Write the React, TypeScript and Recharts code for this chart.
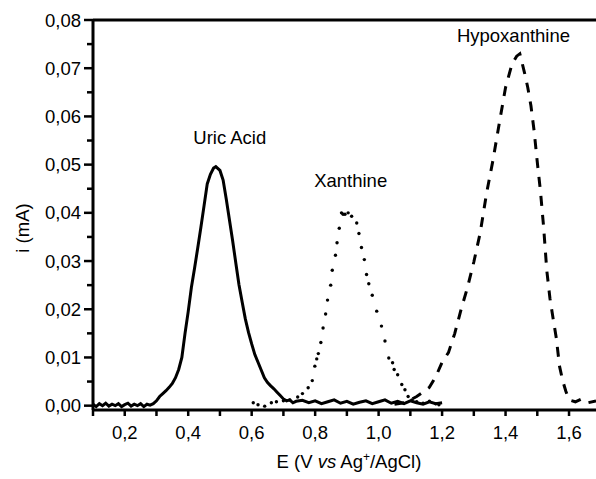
import { LineChart, Line, XAxis, YAxis, ReferenceLine, ReferenceDot } from "recharts";

// potential (V) and current (mA)
const uricE = [
  0.1, 0.11, 0.12, 0.13, 0.14, 0.15, 0.16, 0.17, 0.18, 0.19, 0.2, 0.21, 0.22, 0.23, 0.24, 0.25, 0.26, 0.27, 0.28, 0.29,
  0.3, 0.31, 0.32, 0.33, 0.34, 0.35, 0.36, 0.37, 0.38, 0.39, 0.4, 0.41, 0.42, 0.43, 0.44, 0.45, 0.46, 0.47, 0.48, 0.487,
  0.5, 0.51, 0.52, 0.53, 0.54, 0.55, 0.56, 0.57, 0.58, 0.59, 0.6, 0.61, 0.62, 0.63, 0.64, 0.65, 0.66, 0.67, 0.68, 0.69,
  0.7, 0.71, 0.72, 0.73, 0.74, 0.76, 0.78, 0.8, 0.82, 0.84, 0.86, 0.88, 0.9, 0.92, 0.94, 0.96, 0.98, 1.0, 1.02, 1.04,
  1.06, 1.08, 1.1, 1.12, 1.14, 1.16, 1.18, 1.2,
];
const uricI = [
  0.0003, -0.0002, 0.0004, 0.0, 0.0005, -0.0001, 0.0003, 0.0, 0.0004, -0.0002, 0.0002, 0.0005, -0.0001, 0.0003, 0.0, 0.0004, -0.0002, 0.0003, 0.0001, 0.0004,
  0.001, 0.0019, 0.0025, 0.0031, 0.0038, 0.0046, 0.0058, 0.0075, 0.01, 0.015, 0.0195, 0.0245, 0.0285, 0.0327, 0.037, 0.0415, 0.046, 0.048, 0.0493, 0.0496,
  0.0488, 0.0468, 0.0428, 0.0385, 0.0342, 0.0296, 0.0251, 0.0215, 0.018, 0.0152, 0.0128, 0.0106, 0.009, 0.0074, 0.0058, 0.0048, 0.0041, 0.0035, 0.0028, 0.0021,
  0.0014, 0.001, 0.0012, 0.0006, 0.0009, 0.0011, 0.0006, 0.001, 0.0004, 0.0008, 0.0012, 0.0005, 0.0009, 0.0003, 0.0007, 0.001, 0.0004, 0.0008, 0.0012, 0.0005,
  0.0009, 0.0004, 0.001, 0.0006, 0.0003, 0.0008, 0.0004, 0.0006,
];

// xanthine is drawn as separate sample points
const xanthineE = [
  0.605, 0.62, 0.641, 0.662, 0.678, 0.7, 0.72, 0.745, 0.76, 0.778, 0.791, 0.799, 0.805, 0.81, 0.818, 0.825, 0.833, 0.839, 0.849, 0.854,
  0.864, 0.869, 0.876, 0.883, 0.888, 0.894, 0.904, 0.915, 0.931, 0.938, 0.946, 0.955, 0.962, 0.969, 0.98, 0.994, 1.009, 1.02, 1.032, 1.044,
  1.049, 1.06, 1.073, 1.083, 1.093, 1.105, 1.12, 1.14, 1.16, 1.18, 1.19,
];
const xanthineI = [
  0.0006, 0.0002, -0.0001, 0.0006, 0.0008, 0.001, 0.0012, 0.0018, 0.0025, 0.0037, 0.0052, 0.0082, 0.0097, 0.0108, 0.0131, 0.0161, 0.019, 0.0219, 0.025, 0.0281,
  0.0312, 0.0338, 0.0368, 0.04, 0.0397, 0.0397, 0.04, 0.0393, 0.0379, 0.0357, 0.0328, 0.0303, 0.0272, 0.0253, 0.0229, 0.0196, 0.0165, 0.0134, 0.0099, 0.0089,
  0.0075, 0.0064, 0.0044, 0.0033, 0.0019, 0.0012, 0.0008, 0.0005, 0.0009, 0.0004, 0.0002,
];

const hypoE = [
  1.05, 1.08, 1.1, 1.12, 1.14, 1.16, 1.18, 1.2, 1.22, 1.24, 1.26, 1.28, 1.3, 1.32, 1.34, 1.36, 1.38, 1.4, 1.42, 1.435,
  1.445, 1.46, 1.47, 1.48, 1.49, 1.5, 1.51, 1.52, 1.53, 1.54, 1.55, 1.56, 1.57, 1.58, 1.59, 1.6, 1.62, 1.64, 1.66, 1.685,
];
const hypoI = [
  0.0003, 0.0006, 0.0012, 0.0019, 0.0028, 0.0038, 0.006, 0.009, 0.011, 0.015, 0.02, 0.0245, 0.0298, 0.0358, 0.044, 0.0508, 0.0585, 0.066, 0.0708, 0.0725,
  0.073, 0.069, 0.066, 0.0622, 0.057, 0.0505, 0.0445, 0.037, 0.028, 0.0222, 0.018, 0.014, 0.0082, 0.0052, 0.003, 0.0012, 0.0008, 0.0014, 0.0006, 0.001,
];

const xMajorTicks = [0.2, 0.4, 0.6, 0.8, 1.0, 1.2, 1.4, 1.6];
const xMinorTicks = [0.1, 0.3, 0.5, 0.7, 0.9, 1.1, 1.3, 1.5];
const yMajorTicks = [0, 0.01, 0.02, 0.03, 0.04, 0.05, 0.06, 0.07, 0.08];
const yMinorTicks = [0.005, 0.015, 0.025, 0.035, 0.045, 0.055, 0.065, 0.075];

const toPoints = (e: number[], i: number[]) => e.map((E, k) => ({ E, i: i[k] }));
const uric = toPoints(uricE, uricI);
const xanthine = toPoints(xanthineE, xanthineI);
const hypo = toPoints(hypoE, hypoI);

const FONT = "'Liberation Sans', Arial, Helvetica, sans-serif";
const FS = 18.5;
const comma = (v: number, d: number) => v.toFixed(d).replace(".", ",");
const isMajor = (list: number[], v: number) => list.some((t) => Math.abs(t - v) < 1e-9);

const XTick = ({ x, y, payload }: any) => {
  const major = isMajor(xMajorTicks, payload.value);
  return (
    <g>
      <line x1={x} x2={x} y1={y} y2={y + 6} stroke="#000" strokeWidth={2.5} />
      {major && (
        <text x={x} y={y + 29} textAnchor="middle" fontSize={FS} fontFamily={FONT} fill="#000">
          {comma(payload.value, 1)}
        </text>
      )}
    </g>
  );
};

const YTick = ({ x, y, payload }: any) => {
  const major = isMajor(yMajorTicks, payload.value);
  return (
    <g>
      <line x1={x - (major ? 9 : 6)} x2={x} y1={y} y2={y} stroke="#000" strokeWidth={2.5} />
      {major && (
        <text x={x - 12} y={y + 6.5} textAnchor="end" fontSize={FS} fontFamily={FONT} fill="#000">
          {comma(payload.value, 2)}
        </text>
      )}
    </g>
  );
};

const XTitle = ({ viewBox }: any) => (
  <text x={viewBox.x + 256} y={viewBox.y + 58} textAnchor="middle" fontSize={FS} fontFamily={FONT} fill="#000">
    E (V <tspan fontStyle="italic">vs</tspan> Ag
    <tspan dy={-7} fontSize={12}>+</tspan>
    <tspan dy={7}>/AgCl)</tspan>
  </text>
);

const YTitle = ({ viewBox }: any) => {
  const cx = viewBox.x + 22;
  const cy = viewBox.y + 208;
  return (
    <text x={cx} y={cy} transform={`rotate(-90 ${cx} ${cy})`} textAnchor="middle" dominantBaseline="central" fontSize={FS} fontFamily={FONT} fill="#000">
      i (mA)
    </text>
  );
};

const peakLabel = (value: string) => ({ value, position: "center" as const, fontSize: FS, fontFamily: FONT, fill: "#000" });

export default function App() {
  return (
    <div style={{ position: "absolute", left: 0, top: 0, width: 596, height: 479, background: "#fff" }}>
      <LineChart width={596} height={479} margin={{ top: 20, right: 0, bottom: 0, left: 0 }}>
        <XAxis
          type="number"
          dataKey="E"
          domain={[0.1, 1.685]}
          allowDataOverflow
          ticks={[...xMinorTicks, ...xMajorTicks].sort((a, b) => a - b)}
          interval={0}
          tick={<XTick />}
          tickLine={false}
          tickSize={0}
          tickMargin={0}
          axisLine={{ stroke: "#000", strokeWidth: 3 }}
          height={69}
          label={<XTitle />}
        />
        <YAxis
          type="number"
          domain={[-0.0009, 0.08]}
          allowDataOverflow
          ticks={[...yMajorTicks, ...yMinorTicks].sort((a, b) => a - b)}
          interval={0}
          tick={<YTick />}
          tickLine={false}
          tickSize={0}
          tickMargin={0}
          axisLine={{ stroke: "#000", strokeWidth: 3 }}
          width={93}
          label={<YTitle />}
        />
        <ReferenceLine y={0.08} stroke="#000" strokeWidth={3} />
        <Line data={uric} dataKey="i" type="linear" stroke="#000" strokeWidth={3} dot={false} isAnimationActive={false} />
        <Line
          data={xanthine}
          dataKey="i"
          type="linear"
          stroke="none"
          dot={{ r: 1.7, fill: "#000", stroke: "none" }}
          isAnimationActive={false}
        />
        <Line
          data={hypo}
          dataKey="i"
          type="linear"
          stroke="#000"
          strokeWidth={3}
          strokeDasharray="10 9"
          dot={false}
          isAnimationActive={false}
        />
        <ReferenceDot x={0.531} y={0.0557} r={0} stroke="none" label={peakLabel("Uric Acid")} />
        <ReferenceDot x={0.912} y={0.0467} r={0} stroke="none" label={peakLabel("Xanthine")} />
        <ReferenceDot x={1.425} y={0.0768} r={0} stroke="none" label={peakLabel("Hypoxanthine")} />
      </LineChart>
    </div>
  );
}
